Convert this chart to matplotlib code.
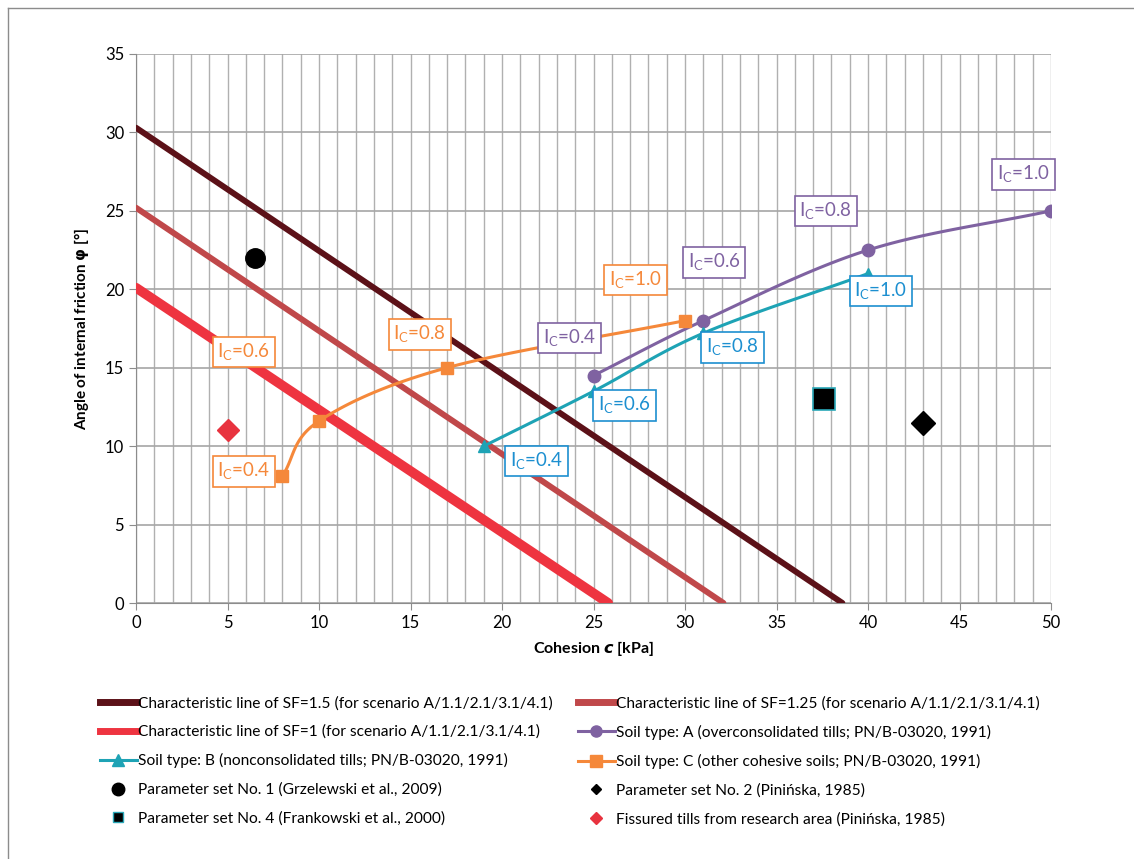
import numpy as np
import matplotlib
matplotlib.use("Agg")
import matplotlib.pyplot as plt
from matplotlib.lines import Line2D

plt.rcParams['font.family'] = ['Lato', 'DejaVu Sans']
plt.rcParams['mathtext.fontset'] = 'dejavusans'

# characteristic lines (c, phi end points)
sf15_c = [0, 38.6]
sf15_phi = [30.3, 0]
sf125_c = [0, 32.1]
sf125_phi = [25.2, 0]
sf1_c = [0, 25.8]
sf1_phi = [20.1, 0]

# soil types
ic_values = ["0.4", "0.6", "0.8", "1.0"]
soilA_c = [25, 31, 40, 50]
soilA_phi = [14.5, 18.0, 22.5, 25.0]
soilB_c = [19, 25, 31, 40]
soilB_phi = [10.0, 13.5, 17.2, 21.0]
soilC_c = [8, 10, 17, 30]
soilC_phi = [8.1, 11.6, 15.0, 18.0]

# label positions for I_C boxes
soilA_lab = [(23.7, 16.9), (31.6, 21.7), (37.7, 25.0), (48.5, 27.3)]
soilB_lab = [(21.9, 9.05), (26.7, 12.6), (32.6, 16.3), (40.7, 19.9)]
soilC_lab = [(5.9, 8.4), (5.9, 16.0), (15.5, 17.1), (27.3, 20.6)]

# parameter sets
set1 = (6.5, 22.0)
set2 = (43.0, 11.5)
set4 = (37.6, 13.0)
fissured = (5.0, 11.0)

c_sf15 = '#5c1118'
c_sf125 = '#c0484a'
c_sf1 = '#ee3440'
c_A = '#7f62a1'
c_B = '#1ea3b5'
c_B_lab = '#1c8fd0'
c_C = '#f5883a'


def smooth(x, y, n=30):
    # catmull-rom style smoothing like excel's smoothed lines
    x = np.asarray(x, float)
    y = np.asarray(y, float)
    px = np.concatenate([[2 * x[0] - x[1]], x, [2 * x[-1] - x[-2]]])
    py = np.concatenate([[2 * y[0] - y[1]], y, [2 * y[-1] - y[-2]]])
    t = np.linspace(0, 1, n)
    xs, ys = [], []
    for i in range(1, len(px) - 2):
        for p, out in ((px, xs), (py, ys)):
            p0, p1, p2, p3 = p[i - 1], p[i], p[i + 1], p[i + 2]
            out.extend(0.5 * ((2 * p1) + (-p0 + p2) * t
                              + (2 * p0 - 5 * p1 + 4 * p2 - p3) * t ** 2
                              + (-p0 + 3 * p1 - 3 * p2 + p3) * t ** 3))
    return np.array(xs), np.array(ys)


fig = plt.figure(figsize=(11.34, 8.59), dpi=100)
ax = fig.add_axes([136 / 1134, 1 - 603 / 859, 915 / 1134, 549 / 859])

ax.plot(sf15_c, sf15_phi, color=c_sf15, lw=4.3, solid_capstyle='round', zorder=3)
ax.plot(sf125_c, sf125_phi, color=c_sf125, lw=4.3, solid_capstyle='round', zorder=3)
ax.plot(sf1_c, sf1_phi, color=c_sf1, lw=7, solid_capstyle='round', zorder=3)

for cx, cy, col, mk, ms in ((soilA_c, soilA_phi, c_A, 'o', 9),
                            (soilB_c, soilB_phi, c_B, '^', 9),
                            (soilC_c, soilC_phi, c_C, 's', 8)):
    sx, sy = smooth(cx, cy)
    ax.plot(sx, sy, color=col, lw=2.2, zorder=4)
    ax.plot(cx, cy, ls='none', marker=mk, ms=ms, color=col, zorder=5)

ax.plot(*set1, marker='o', ms=14, color='black', ls='none', zorder=5)
ax.plot(*set2, marker='D', ms=12, color='black', ls='none', zorder=5)
ax.plot(*set4, marker='s', ms=15.5, color='black', mec='#2aa8b8', mew=1.2, ls='none', zorder=5)
ax.plot(*fissured, marker='D', ms=11, color='#e8333f', ls='none', zorder=5)

for labs, col in ((soilA_lab, c_A), (soilB_lab, c_B_lab), (soilC_lab, c_C)):
    for (lx, ly), v in zip(labs, ic_values):
        ax.text(lx, ly, r'I$_\mathregular{C}$=' + v, color=col, fontsize=13.5,
                ha='center', va='center', zorder=6,
                bbox=dict(boxstyle='square,pad=0.25', fc='white', ec=col, lw=1.2))

ax.set_xlim(0, 50)
ax.set_ylim(0, 35)
ax.set_xticks(np.arange(0, 51, 5))
ax.set_yticks(np.arange(0, 36, 5))
ax.set_xticks(np.arange(0, 51, 1), minor=True)
ax.grid(True, which='both', axis='x', color='#b0b0b0', lw=1)
ax.grid(True, which='major', axis='y', color='#a6a6a6', lw=1.2)
ax.set_axisbelow(True)
for s in ('top', 'right'):
    ax.spines[s].set_visible(False)
for s in ('left', 'bottom'):
    ax.spines[s].set_color('#8c8c8c')
ax.tick_params(which='major', length=5, color='#8c8c8c', labelsize=12)
ax.tick_params(which='minor', length=0)
ax.set_xlabel(r'Cohesion $\boldsymbol{c}$ [kPa]', fontsize=11.5, fontweight='bold', labelpad=6)
ax.set_ylabel(r'Angle of internal friction $\boldsymbol{\varphi}$ [°]', fontsize=11,
              fontweight='bold', labelpad=10)

h = [
    Line2D([], [], color=c_sf15, lw=5),
    Line2D([], [], color=c_sf1, lw=5),
    Line2D([], [], color=c_B, lw=2.2, marker='^', ms=8),
    Line2D([], [], color='black', ls='none', marker='o', ms=9),
    Line2D([], [], color='black', ls='none', marker='s', ms=7, mec='#2aa8b8'),
]
l = [
    'Characteristic line of SF=1.5 (for scenario A/1.1/2.1/3.1/4.1)',
    'Characteristic line of SF=1 (for scenario A/1.1/2.1/3.1/4.1)',
    'Soil type: B (nonconsolidated tills; PN/B-03020, 1991)',
    'Parameter set No. 1 (Grzelewski et al., 2009)',
    'Parameter set No. 4 (Frankowski et al., 2000)',
]
h2 = [
    Line2D([], [], color=c_sf125, lw=5),
    Line2D([], [], color=c_A, lw=2.2, marker='o', ms=8),
    Line2D([], [], color=c_C, lw=2.2, marker='s', ms=8),
    Line2D([], [], color='black', ls='none', marker='D', ms=5),
    Line2D([], [], color='#e8333f', ls='none', marker='D', ms=6),
]
l2 = [
    'Characteristic line of SF=1.25 (for scenario A/1.1/2.1/3.1/4.1)',
    'Soil type: A (overconsolidated tills; PN/B-03020, 1991)',
    'Soil type: C (other cohesive soils; PN/B-03020, 1991)',
    'Parameter set No. 2 (Pinińska, 1985)',
    'Fissured tills from research area (Pinińska, 1985)',
]
leg_kw = dict(frameon=False, fontsize=11.2, handlelength=2.35, handletextpad=0.1,
              labelspacing=0.92, borderaxespad=0, borderpad=0)
fig.legend(h, l, loc='upper left', bbox_to_anchor=(100 / 1134, 1 - 696 / 859), **leg_kw)
fig.legend(h2, l2, loc='upper left', bbox_to_anchor=(578 / 1134, 1 - 696 / 859), **leg_kw)

fig.add_artist(Line2D([8 / 1134, 8 / 1134], [0, 1 - 8 / 859], color='#8c8c8c', lw=1))
fig.add_artist(Line2D([8 / 1134, 1], [1 - 8 / 859, 1 - 8 / 859], color='#8c8c8c', lw=1))

fig.savefig('out.png', dpi=100)
